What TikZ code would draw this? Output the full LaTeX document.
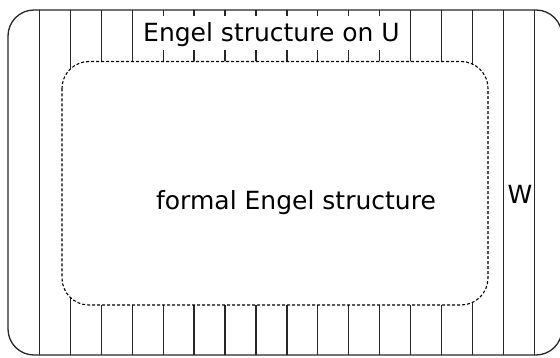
\documentclass[tikz,border=0pt]{standalone}
\usepackage{fontspec}
\setmainfont{DejaVu Sans}
\begin{document}
\begin{tikzpicture}[x=1pt,y=-1pt,
  hatch/.style={draw=black!85,line width=1.2pt},
  outerbox/.style={draw=black!85,line width=1.3pt,rounded corners=26pt},
  innerbox/.style={draw=black,line width=1.1pt,dash pattern=on 3pt off 2pt,rounded corners=27pt,fill=white},
  lbl/.style={font=\fontsize{25}{30}\selectfont,inner sep=0pt,anchor=base}]
\useasboundingbox (0,0) rectangle (560,358);
\begin{scope}
  \clip[rounded corners=26pt] (8,10) rectangle (562,355);
  \foreach \k in {0,...,16} \draw[hatch] ({39.3+30.95*\k},0) -- ({39.3+30.95*\k},358);
\end{scope}
\draw[outerbox] (8,10) rectangle (562,355);
\draw[innerbox] (62,61.5) rectangle (488,305);
\node[lbl,fill=white,text height=20pt,text depth=3pt,inner xsep=3pt,inner ysep=5.5pt] (top) at (271.5,41.7) {Engel structure on U};
\node[lbl] (formal) at (296,210) {formal Engel structure};
\node[lbl] (w) at (520,203.3) {W};
\end{tikzpicture}
\end{document}
